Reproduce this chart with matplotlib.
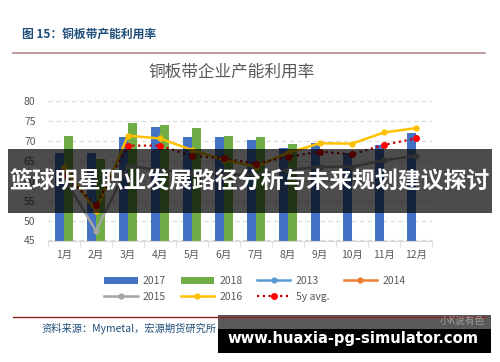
import matplotlib.pyplot as plt
import numpy as np
from matplotlib.patches import Rectangle
from matplotlib.lines import Line2D

plt.rcParams['font.family'] = ['Noto Sans CJK SC', 'DejaVu Sans']

months = ['1月', '2月', '3月', '4月', '5月', '6月', '7月', '8月', '9月', '10月', '11月', '12月']
y2017 = [67.0, 67.0, 71.0, 73.5, 71.0, 71.0, 70.2, 68.3, 69.5, 67.0, 69.0, 72.0]
y2018 = [71.3, 65.4, 74.6, 74.1, 73.2, 71.3, 71.0, 69.1]
y2013 = []
y2014 = []
y2015 = [60.8, 47.4, 63.8, 62.6, 62.0, 61.5, 61.5, 62.7, 63.5, 63.5, 65.1, 66.3]
y2016 = [63.5, 52.4, 71.3, 70.6, 67.7, 65.2, 63.5, 67.0, 69.4, 69.3, 72.1, 73.2]
avg5 = [61.4, 53.9, 68.8, 68.8, 66.2, 65.6, 64.3, 66.0, 67.3, 66.6, 69.0, 70.6]

W, H = 500, 362


def fx(px):
    return px / W


def fy(py):
    return 1 - py / H


def main():
    fig = plt.figure(figsize=(5, 3.62), dpi=100)
    ax = fig.add_axes([fx(48), fy(240.5), fx(432) - fx(48), fy(101) - fy(240.5)])

    x = np.arange(len(months))
    bw = 0.28
    ax.bar(x - bw / 2, y2017, bw, color='#4472C4', label='2017', zorder=2)
    ax.bar(np.arange(len(y2018)) + bw / 2, y2018, bw, color='#70AD47', label='2018', zorder=2)
    ax.plot(np.arange(len(y2013)), y2013, color='#5B9BD5', lw=1.8, marker='o', ms=3.5, label='2013')
    ax.plot(np.arange(len(y2014)), y2014, color='#ED7D31', lw=1.8, marker='o', ms=3.5, label='2014')
    ax.plot(x, y2015, color='#A5A5A5', lw=1.8, marker='o', ms=3.5, label='2015', zorder=3)
    ax.plot(x, y2016, color='#FFC000', lw=1.8, marker='o', ms=3.5, label='2016', zorder=3)
    ax.plot(x, avg5, color='#C00000', lw=1.6, ls=(0, (1, 1.6)), marker='o', ms=4,
            mfc='#FF0000', mec='#FF0000', label='5y avg.', zorder=4)

    ax.set_xlim(-0.5, 11.5)
    ax.set_ylim(45, 80)
    ax.set_yticks(range(45, 81, 5))
    ax.set_xticks(x)
    ax.set_xticklabels(months)
    ax.set_xticks(np.arange(-0.5, 12, 1), minor=True)
    ax.tick_params(axis='x', which='major', length=0, pad=7, labelsize=7.5, labelcolor='#595959')
    ax.tick_params(axis='x', which='minor', length=4, color='#D9D9D9')
    ax.tick_params(axis='y', length=0, pad=9, labelsize=7.5, labelcolor='#595959')
    ax.grid(axis='y', color='#D9D9D9', ls=(0, (4, 3)), lw=0.8, zorder=0)
    for s in ['top', 'right', 'left']:
        ax.spines[s].set_visible(False)
    ax.spines['bottom'].set_color('#D9D9D9')

    h, l = ax.get_legend_handles_labels()
    d = dict(zip(l, h))
    order = ['2017', '2015', '2018', '2016', '2013', '5y avg.', '2014']
    fig.legend([d[k] for k in order], order, ncol=4, loc='center',
               bbox_to_anchor=(fx(255), fy(289)), frameon=False, fontsize=7.5,
               labelcolor='#595959', handlelength=3.2, columnspacing=1.4,
               handletextpad=0.5, numpoints=1, labelspacing=0.6)

    # header and rules
    fig.text(fx(22), fy(34), '图 15：铜板带产能利用率', fontsize=8.5, fontweight='bold',
             color='#1F4E79', va='center', ha='left')
    fig.add_artist(Line2D([fx(13), fx(485)], [fy(53), fy(53)], color='#B48A8A', lw=1.2))
    fig.text(fx(232), fy(72), '铜板带企业产能利用率', fontsize=12, color='#595959',
             va='center', ha='center')
    fig.add_artist(Line2D([fx(13), fx(485)], [fy(317), fy(317)], color='#8B2323', lw=1.0))
    fig.text(fx(42), fy(328), '资料来源：Mymetal，宏源期货研究所', fontsize=7.4, style='italic',
             color='#1F4E79', va='center', ha='left')

    # overlay banner
    fig.add_artist(Rectangle((fx(8), fy(213)), fx(492) - fx(8), fy(149) - fy(213),
                             color='black', alpha=0.7, lw=0))
    fig.text(fx(250), fy(182), '篮球明星职业发展路径分析与未来规划建议探讨', fontsize=16.5,
             fontweight='bold', color='white', va='center', ha='center')

    # watermark box
    fig.add_artist(Rectangle((fx(218), fy(329)), fx(491) - fx(218), fy(315) - fy(329),
                             color='#5A5A5A', lw=0))
    fig.text(fx(485), fy(321), '小K说有色', fontsize=7, color='#9A9A9A', va='center', ha='right')
    fig.add_artist(Rectangle((fx(218), fy(353)), fx(491) - fx(218), fy(329) - fy(353),
                             color='black', lw=0))
    fig.text(fx(353), fy(338), 'www.huaxia-pg-simulator.com', fontsize=10.6, fontweight='bold',
             color='white', va='center', ha='center', family='DejaVu Sans')

    fig.savefig('out.png', dpi=100)


if __name__ == '__main__':
    main()
